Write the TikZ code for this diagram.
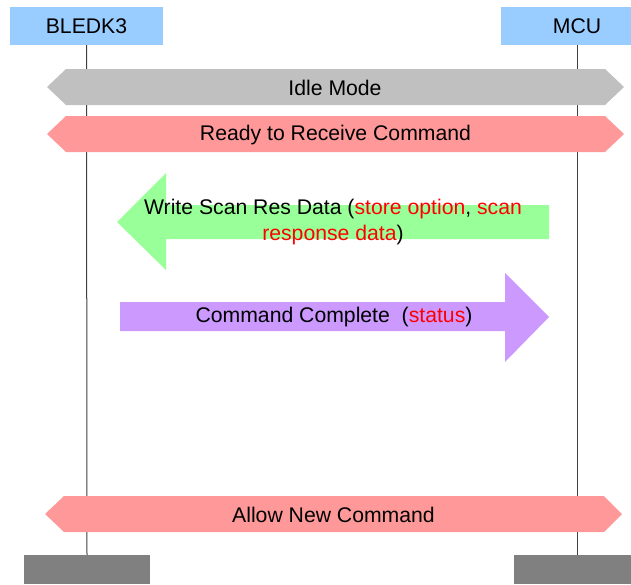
\documentclass[tikz,border=0pt]{standalone}
\usepackage{fontspec}
\setmainfont{Liberation Sans}
\definecolor{hdrblue}{HTML}{99CCFF}
\definecolor{idlegray}{HTML}{C0C0C0}
\definecolor{bandpink}{HTML}{FF9999}
\definecolor{arrgreen}{HTML}{99FF99}
\definecolor{arrpurple}{HTML}{CC99FF}
\definecolor{footgray}{HTML}{808080}
\definecolor{lifeline}{HTML}{404040}
\definecolor{txtred}{HTML}{FF0000}
\begin{document}
\begin{tikzpicture}[x=1pt,y=-1pt,
  lbl/.style={font=\fontsize{21.2}{26}\selectfont, text=black, inner sep=0pt},
  hdrbox/.style={fill=hdrblue, minimum width=153pt, minimum height=38pt, inner sep=0pt},
  footbox/.style={fill=footgray, minimum width=126pt, minimum height=29pt, inner sep=0pt},
  lifeln/.style={draw=lifeline, line width=1pt}]
\useasboundingbox (0,0) rectangle (631,584);
\clip (0,0) rectangle (631,584);
% header and footer boxes
\node[hdrbox] (bt) at (86.5,26) {};
\node[hdrbox] (mt) at (577,26) {};
\node[lbl] (btt) at (86.5,26) {BLEDK3};
\node[lbl] (mtt) at (577,26) {MCU};
\node[footbox] (bb) at (87,569.5) {};
\node[footbox] (mb) at (577,569.5) {};
% lifelines
\draw[lifeln] (bt.south) -- (bb.north);
\draw[lifeln] (mt.south) -- (mb.north);
% Idle Mode band
\fill[idlegray] (47,87) -- (66,69) -- (605,69) -- (624,87) -- (605,105) -- (66,105) -- cycle;
\node[lbl] (idle) at (335,88) {Idle Mode};
% Ready band
\fill[bandpink] (47,134) -- (66,116) -- (605,116) -- (624,134) -- (605,152) -- (66,152) -- cycle;
\node[lbl] (ready) at (335.5,135.5) {Ready to Receive Command};
% green arrow (MCU -> BLEDK3)
\fill[arrgreen] (117,222) -- (166,173) -- (166,205) -- (549,205) -- (549,239) -- (166,239) -- (166,270) -- cycle;
\node[lbl, align=center] (wsr) at (333,222.5) {Write Scan Res Data (\textcolor{txtred}{store option}, \textcolor{txtred}{scan}\\\textcolor{txtred}{response data})};
% purple arrow (BLEDK3 -> MCU)
\fill[arrpurple] (120,302) -- (505,302) -- (505,273) -- (549,317) -- (505,362) -- (505,331) -- (120,331) -- cycle;
\node[lbl] (cc) at (334,317.5) {Command Complete~~(\textcolor{txtred}{status})};
% Allow New Command band
\fill[bandpink] (45,514) -- (64,496) -- (604,496) -- (622,514) -- (604,532) -- (64,532) -- cycle;
\node[lbl] (anc) at (333.5,515) {Allow New Command};
\end{tikzpicture}
\end{document}
